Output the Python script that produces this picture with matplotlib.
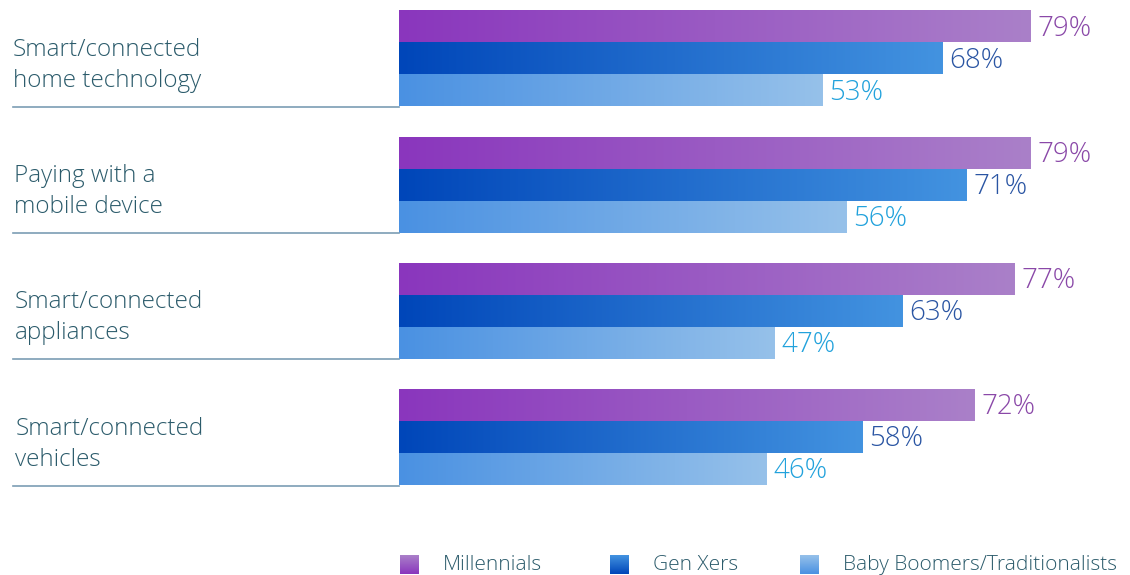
import numpy as np
import matplotlib
import matplotlib.pyplot as plt
from matplotlib.colors import LinearSegmentedColormap

matplotlib.rcParams.update({'font.family': ['Open Sans', 'DejaVu Sans'], 'font.weight': 'light'})

categories = ['Smart/connected\nhome technology', 'Paying with a\nmobile device',
              'Smart/connected\nappliances', 'Smart/connected\nvehicles']
series = ['Millennials', 'Gen Xers', 'Baby Boomers/Traditionalists']
millennials = [79, 79, 77, 72]
gen_x = [68, 71, 63, 58]
boomers = [53, 56, 47, 46]
values = [millennials, gen_x, boomers]

grad_colors = [('#8A36BD', '#AA80C9'), ('#0046B9', '#4393E0'), ('#4A91E2', '#96C1EA')]
text_colors = ['#8A48A8', '#2A55A3', '#22A2DC']
label_color = '#2B5B6B'

px = 7.99  # pixels per percent
x0 = 399
fig = plt.figure(figsize=(11.3, 5.75), dpi=100)
ax = fig.add_axes([0, 0, 1, 1])
ax.axis('off')

grad = np.linspace(0, 1, 256).reshape(1, -1)
bar_h = 32
for i, cat in enumerate(categories):
    yc = 58.5 + 126.2 * i
    for j in range(3):
        v = values[j][i]
        y = yc + (j - 1) * bar_h
        cmap = LinearSegmentedColormap.from_list('g%d' % j, grad_colors[j])
        ax.imshow(grad, cmap=cmap, aspect='auto', extent=[0, v, y + bar_h / 2, y - bar_h / 2],
                  interpolation='bilinear')
        ax.text(v + 7 / px, y + 2, '%d%%' % v, color=text_colors[j], fontsize=20, va='center', ha='left')
    ax.text(-48.3 + i * 0.1, yc + 7, cat, color=label_color, fontsize=17.5, va='center', ha='left',
            linespacing=1.38)
    ax.plot([-48.3, 0], [yc + 1.5 * bar_h + 0.5] * 2, color='#7B9DB4', lw=1.2)

# legend
leg_x = [400, 610, 800]
vgrad = np.linspace(0, 1, 64).reshape(-1, 1)
for j, name in enumerate(series):
    lx = (leg_x[j] - x0) / px
    cmap = LinearSegmentedColormap.from_list('l%d' % j, grad_colors[j][::-1])
    ax.imshow(vgrad, cmap=cmap, aspect='auto', extent=[lx, lx + 19 / px, 574, 555],
              interpolation='bilinear')
    ax.text(lx + 43 / px, 565, name, color=label_color, fontsize=15, va='center', ha='left')

ax.set_xlim(-x0 / px, (1130 - x0) / px)
ax.set_ylim(575, 0)

plt.savefig('out.png', dpi=100)
